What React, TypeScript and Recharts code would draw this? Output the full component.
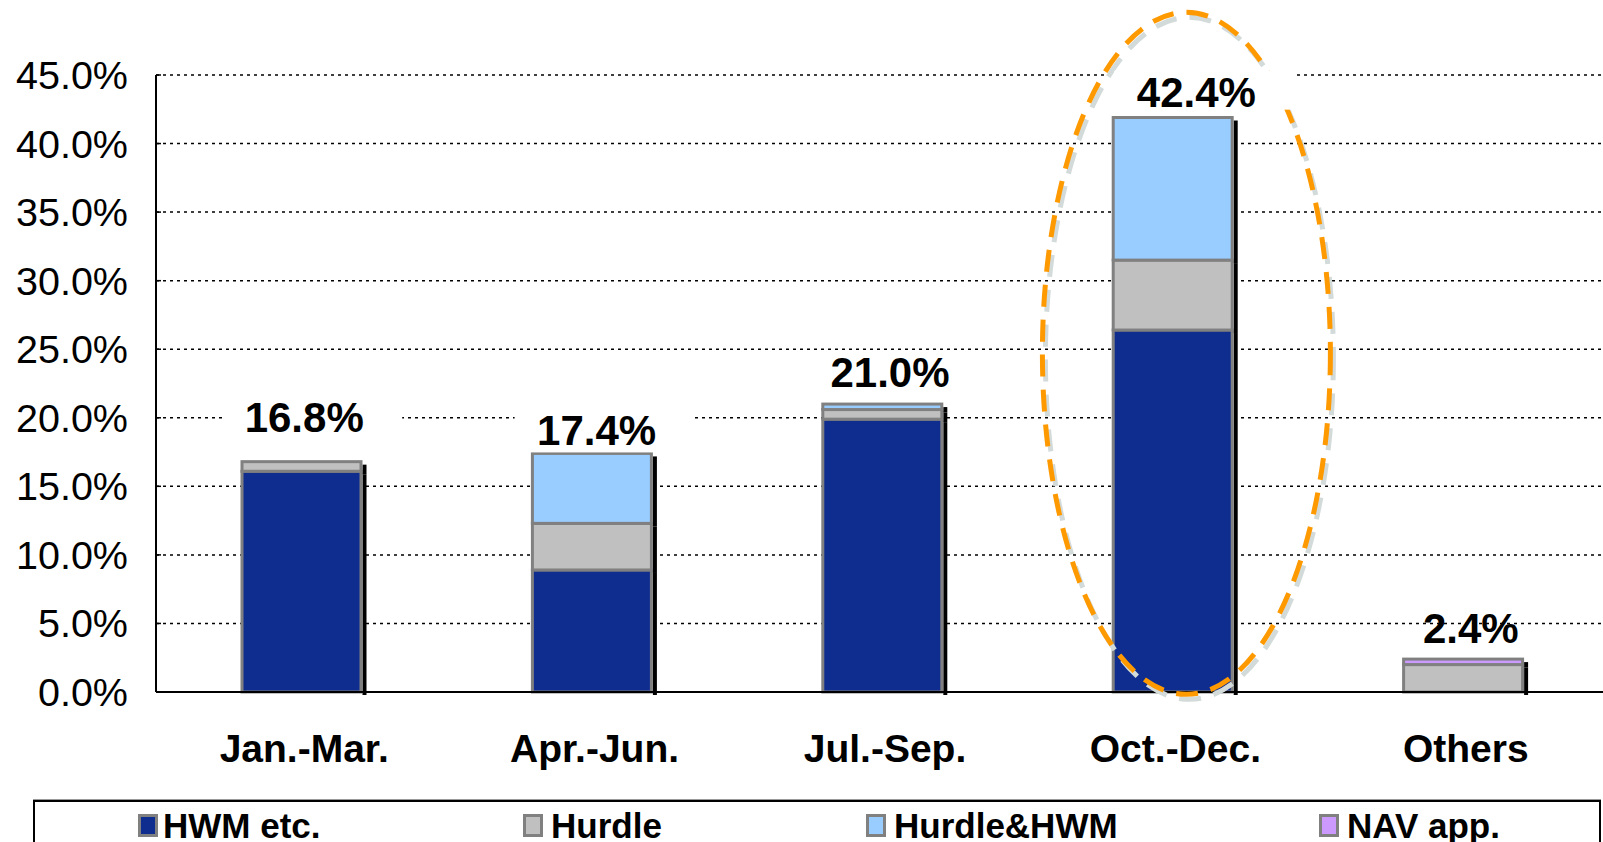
import React from 'react';
import {
  ComposedChart,
  Bar,
  Line,
  XAxis,
  YAxis,
  CartesianGrid,
  LabelList,
  ReferenceDot,
} from 'recharts';

const categories = ['Jan.-Mar.', 'Apr.-Jun.', 'Jul.-Sep.', 'Oct.-Dec.', 'Others'];
const hwm = [16.1, 8.9, 19.9, 26.4, 0];
const hurdle = [0.7, 3.4, 0.7, 5.1, 2.0];
const hurdleHwm = [0, 5.1, 0.4, 10.4, 0];
const navApp = [0, 0, 0, 0, 0.4];
const totals = [16.8, 17.4, 21.0, 42.4, 2.4];
const yTicks = [0, 5, 10, 15, 20, 25, 30, 35, 40, 45];

const series = [
  { key: 'hwm', name: 'HWM etc.', color: '#0E2D8E' },
  { key: 'hurdle', name: 'Hurdle', color: '#C0C0C0' },
  { key: 'hurdleHwm', name: 'Hurdle&HWM', color: '#99CCFF' },
  { key: 'navApp', name: 'NAV app.', color: '#CC99FF' },
];

const data = categories.map((c, i) => ({
  name: c,
  hwm: hwm[i],
  hurdle: hurdle[i],
  hurdleHwm: hurdleHwm[i],
  navApp: navApp[i],
  total: totals[i],
}));

// hand placed labels in the original, nudged a bit per bar
const labelLift = [30, 8, 17, 4, 16];
const labelShift = [3, 5, 8, 24, 8];
const labelBoxed = [true, true, true, true, false];

const FONT = 'Arial, "Liberation Sans", sans-serif';

const SegmentShape = (props: any) => {
  const { x, y, width, height, fill } = props;
  if (!height || height <= 0) return <g />;
  return (
    <g>
      <rect x={x + width + 1.5} y={y + 3} width={4} height={height} fill="#000" />
      <rect x={x} y={y} width={width} height={height} fill={fill} stroke="#808080" strokeWidth={3} />
    </g>
  );
};

const TotalLabel = (props: any) => {
  const { x, y, index, value } = props;
  const cx = x + labelShift[index];
  const base = y - labelLift[index];
  const boxTop = base - 36;
  const boxBottom = Math.min(base + 10, y - 1);
  return (
    <g>
      {labelBoxed[index] && (
        <rect x={cx - 82} y={boxTop} width={180} height={boxBottom - boxTop} fill="#fff" />
      )}
      <text x={cx} y={base} textAnchor="middle" fontSize={42} fontWeight="bold" fill="#000" fontFamily={FONT}>
        {value.toFixed(1)}%
      </text>
    </g>
  );
};

const CatTick = (props: any) => {
  const { x, y, payload } = props;
  return (
    <text x={x + 3} y={y + 62} textAnchor="middle" fontSize={39} fontWeight="bold" fill="#000" fontFamily={FONT}>
      {payload.value}
    </text>
  );
};

const Ring = (props: any) => {
  const { cx, cy } = props;
  const ex = cx + 14;
  return (
    <g>
      <ellipse cx={ex + 3} cy={cy + 5} rx={144} ry={341} fill="none" stroke="#D3DADA" strokeWidth={5} strokeDasharray="22 13" />
      <ellipse cx={ex} cy={cy} rx={144} ry={341} fill="none" stroke="#FF9900" strokeWidth={5} strokeDasharray="22 13" />
    </g>
  );
};

const legendPos = [
  { icon: 138, text: 163 },
  { icon: 523, text: 551 },
  { icon: 866, text: 894 },
  { icon: 1319, text: 1347 },
];

export default function App() {
  return (
    <div style={{ position: 'absolute', left: 0, top: 0, width: 1603, height: 842, overflow: 'hidden', background: '#fff', fontFamily: FONT }}>
      <ComposedChart width={1608} height={842} data={data} margin={{ top: 75, right: 0, left: 0, bottom: 0 }}>
        <CartesianGrid vertical={false} stroke="#000" strokeDasharray="3 4" strokeWidth={1.5} />
        <XAxis
          xAxisId="edges"
          type="number"
          domain={[0, 5]}
          ticks={[1, 2, 3, 4]}
          height={0}
          axisLine={false}
          tickSize={-5}
          tickLine={{ stroke: '#000', strokeWidth: 1.5 }}
          tick={() => <g />}
        />
        <XAxis
          xAxisId="cat"
          dataKey="name"
          height={150}
          tickLine={false}
          axisLine={{ stroke: '#000', strokeWidth: 2 }}
          tick={<CatTick />}
          interval={0}
        />
        <YAxis
          width={156}
          domain={[0, 45]}
          ticks={yTicks}
          interval={0}
          tickFormatter={(v: number) => v.toFixed(1) + '%'}
          axisLine={{ stroke: '#000', strokeWidth: 2 }}
          tickLine={{ stroke: '#000', strokeWidth: 1.5 }}
          tickSize={-5}
          tickMargin={33}
          tick={{ fontSize: 39.5, fill: '#000', fontFamily: FONT }}
        />
        {series.map((s) => (
          <Bar
            key={s.key}
            xAxisId="cat"
            dataKey={s.key}
            stackId="a"
            fill={s.color}
            barSize={119}
            shape={<SegmentShape />}
            isAnimationActive={false}
          />
        ))}
        <Line xAxisId="cat" dataKey="total" stroke="none" dot={false} activeDot={false} isAnimationActive={false}>
          <LabelList dataKey="total" content={<TotalLabel />} />
        </Line>
        <ReferenceDot xAxisId="cat" x="Oct.-Dec." y={24.7} r={0} ifOverflow="visible" shape={<Ring />} />
      </ComposedChart>
      <div style={{ position: 'absolute', left: 33, top: 800, width: 1564, height: 60, border: '2px solid #000', borderBottom: 'none', boxShadow: '0 -1px 0 #999' }}>
        {series.map((s, i) => (
          <React.Fragment key={s.key}>
            <div style={{ position: 'absolute', left: legendPos[i].icon - 35, top: 12, width: 14, height: 17, background: s.color, border: '3px solid #808080' }} />
            <div style={{ position: 'absolute', left: legendPos[i].text - 35, top: 2, fontSize: 35, fontWeight: 'bold', lineHeight: '44px', whiteSpace: 'nowrap' }}>
              {s.name}
            </div>
          </React.Fragment>
        ))}
      </div>
    </div>
  );
}
